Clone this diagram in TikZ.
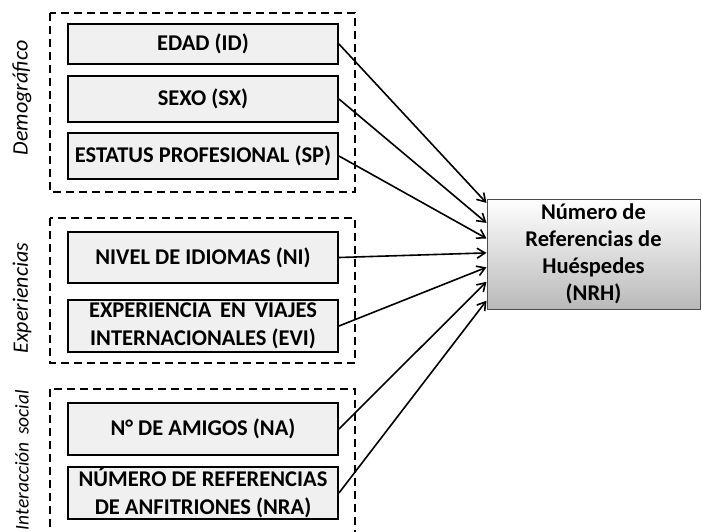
\documentclass[tikz,border=0pt]{standalone}
\usepackage{fontspec}
\setmainfont{Carlito}
\usetikzlibrary{arrows.meta,calc}
\definecolor{boxGray}{RGB}{240,240,240}
\definecolor{shadeGray}{RGB}{185,185,185}

\tikzset{
  varbox/.style={draw=black,line width=1.9pt,fill=boxGray,minimum width=270pt,
    align=center,font=\bfseries\fontsize{22.5}{28}\selectfont,inner sep=0pt},
  groupframe/.style={draw=black,line width=1.8pt,dash pattern=on 8pt off 5pt},
  grouplabel/.style={rotate=90,font=\itshape\fontsize{22}{26}\selectfont},
  link/.style={line width=1.6pt,-{Straight Barb[length=8pt,width=10pt,line width=1.6pt]}}
}

\begin{document}
\begin{tikzpicture}[x=1pt,y=-1pt]
  \clip (0,0) rectangle (702,531);
  \fill[white] (0,0) rectangle (702,531);
  % group frames
  \draw[groupframe] (50,13) rectangle (355,192);
  \draw[groupframe] (50,218) rectangle (355,363);
  \draw[groupframe] (50,389) rectangle (355,545);
  \node[grouplabel] (lDem) at (22,98) {Demográfico};
  \node[grouplabel] (lExp) at (22,298) {Experiencias};
  \node[grouplabel,font=\itshape\fontsize{19.5}{24}\selectfont] (lInt) at (22,460) {Interacción\, social};
  % Demografico
  \node[varbox,minimum height=40pt] (ID) at (203,44) {EDAD (ID)};
  \node[varbox,minimum height=46pt] (SX) at (203,99) {SEXO (SX)};
  \node[varbox,minimum height=46pt] (SP) at (203,156) {ESTATUS PROFESIONAL (SP)};
  % Experiencias
  \node[varbox,minimum height=51pt] (NI) at (203,257.5) {NIVEL DE IDIOMAS (NI)};
  \node[varbox,minimum height=52pt] (EVI) at (203,326) {EXPERIENCIA\, EN\, VIAJES\\INTERNACIONALES (EVI)};
  % Interaccion social
  \node[varbox,minimum height=52pt] (NA) at (203,429) {N° DE AMIGOS (NA)};
  \node[varbox,minimum height=52pt] (NRA) at (203,493) {NÚMERO DE REFERENCIAS\\DE ANFITRIONES (NRA)};
  % dependent variable
  \node[draw=black!70,line width=1pt,top color=white,bottom color=shadeGray,
    minimum width=213pt,minimum height=110pt,align=center,
    font=\bfseries\fontsize{22.5}{27}\selectfont] (NRH) at (593.5,254)
    {Número de\\Referencias de\\Huéspedes\\(NRH)};
  % arrows
  \foreach \src/\f in {ID/0.04,SX/0.22,SP/0.36,NI/0.49,EVI/0.62,NA/0.75,NRA/0.92}
    \draw[link] (\src.east) -- ($(NRH.north west)!\f!(NRH.south west)$);
\end{tikzpicture}
\end{document}
